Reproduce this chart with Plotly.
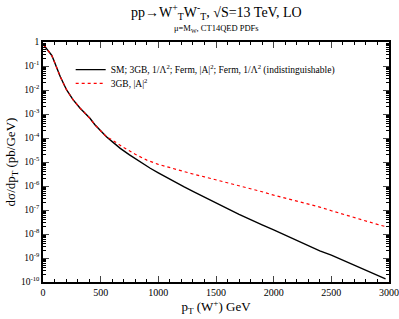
import plotly.graph_objects as go

# black curve: SM etc. (pT in GeV, log10 of dsigma/dpT)
pt_sm = [10, 40, 75, 90, 120, 150, 205, 260, 320, 407, 450, 500, 550, 600, 670, 750, 850, 930,
         1000, 1100, 1220, 1300, 1400, 1500, 1600, 1700, 1800, 1900, 2000, 2100, 2200, 2286,
         2400, 2500, 2575, 2700, 2800, 2900, 2970]
log_sm = [-0.15, -0.33, -0.55, -0.72, -1.1, -1.45, -2.0, -2.4, -2.75, -3.18, -3.45, -3.72, -3.95,
          -4.15, -4.43, -4.7, -5.02, -5.26, -5.45, -5.72, -6.03, -6.22, -6.45, -6.7, -6.94, -7.18,
          -7.41, -7.62, -7.83, -8.05, -8.27, -8.46, -8.7, -8.88, -9.04, -9.3, -9.5, -9.7, -9.87]

# red dotted: 3GB |A|^2
pt_a2 = [10, 40, 75, 90, 120, 150, 205, 260, 320, 407, 450, 500, 550, 600, 700, 800, 900,
         1000, 1100, 1200, 1300, 1400, 1500, 1600, 1700, 1800, 1900, 2000, 2100, 2200, 2300,
         2400, 2500, 2600, 2700, 2800, 2900, 2970]
log_a2 = [-0.15, -0.33, -0.55, -0.72, -1.1, -1.45, -2.0, -2.4, -2.75, -3.18, -3.45, -3.72, -3.95,
          -4.08, -4.40, -4.68, -4.92, -5.10, -5.24, -5.38, -5.50, -5.62, -5.74, -5.86, -5.98,
          -6.10, -6.24, -6.38, -6.50, -6.62, -6.74, -6.88, -7.03, -7.18, -7.32, -7.46, -7.60, -7.69]

x_ticks = [0, 500, 1000, 1500, 2000, 2500, 3000]
y_exps = list(range(0, -11, -1))
y_ticktext = ["1"] + ["10<sup>%d</sup>" % e for e in y_exps[1:]]

serif = "Liberation Serif"

fig = go.Figure()
fig.add_trace(go.Scatter(
    x=pt_sm, y=[10 ** v for v in log_sm], mode="lines",
    line=dict(color="black", width=1.4), legend="legend",
    name="SM; 3GB, 1/Λ<sup>2</sup>; Ferm, |A|<sup>2</sup>; Ferm, 1/Λ<sup>2</sup> (indistinguishable)"))
fig.add_trace(go.Scatter(
    x=pt_a2, y=[10 ** v for v in log_a2], mode="lines",
    line=dict(color="#ff0000", width=1.2, dash="dot"), legend="legend2",
    name="3GB, |A|<sup>2</sup>"))

minor_y = [m * 10.0 ** e for e in range(-10, 0) for m in range(2, 10)]
minor_x = [v for v in range(100, 3000, 100) if v % 500 != 0]

fig.update_layout(
    width=399, height=319,
    margin=dict(l=43, r=10, t=42, b=37, autoexpand=False),
    paper_bgcolor="white", plot_bgcolor="white",
    font=dict(family=serif, color="black", size=10),
    showlegend=True,
    legend=dict(x=0.08, y=0.885, xanchor="left", yanchor="middle",
                bgcolor="rgba(0,0,0,0)", font=dict(size=9.5, family=serif), itemwidth=30),
    legend2=dict(x=0.08, y=0.828, xanchor="left", yanchor="middle",
                 bgcolor="rgba(0,0,0,0)", font=dict(size=9.5, family=serif), itemwidth=30),
    xaxis=dict(range=[0, 3000], tickvals=x_ticks, ticks="inside", ticklen=6, automargin=False,
               showline=True, linecolor="black", linewidth=1.5, mirror="allticks",
               showgrid=False, zeroline=False, tickfont=dict(size=10, family=serif),
               minor=dict(tickvals=minor_x, ticks="inside", ticklen=3, tickcolor="black", showgrid=False),
               title=dict(text="p<sub>T</sub> (W<sup>+</sup>) GeV", font=dict(size=13, family=serif), standoff=4)),
    yaxis=dict(type="log", range=[-10, 0], tickvals=[10.0 ** e for e in y_exps], ticktext=y_ticktext,
               ticks="inside", ticklen=6, automargin=False,
               showline=True, linecolor="black", linewidth=1.5, mirror="allticks",
               showgrid=False, zeroline=False, tickfont=dict(size=9.5, family=serif),
               minor=dict(tickvals=minor_y, ticks="inside", ticklen=3, tickcolor="black", showgrid=False),
               title=dict(text="dσ/dp<sub>T</sub> (pb/GeV)", font=dict(size=13, family=serif), standoff=2)),
)
fig.add_annotation(text="pp→W<sup>+</sup><sub>T</sub>W<sup>-</sup><sub>T</sub>, √S=13 TeV, LO",
                   x=0.5, y=1.0, xref="paper", yref="paper", yshift=30, showarrow=False,
                   font=dict(size=14, family=serif), yanchor="middle")
fig.add_annotation(text="μ=M<sub>W</sub>, CT14QED PDFs",
                   x=0.5, y=1.0, xref="paper", yref="paper", yshift=14, showarrow=False,
                   font=dict(size=8.5, family=serif), yanchor="middle")

fig.write_html("out.html", config={"displayModeBar": False},
               post_script="document.body.style.margin='0';")
